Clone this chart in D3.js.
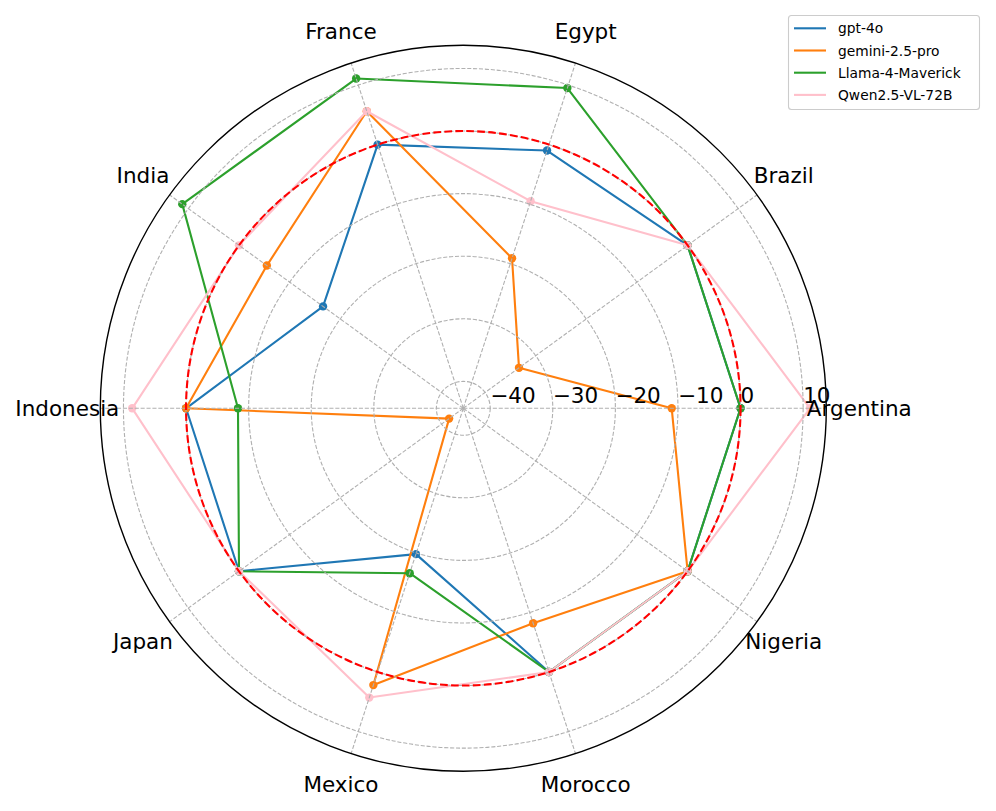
<!DOCTYPE html>
<html lang="en">
  <head>
    <meta charset="utf-8">
    <title>Radar chart</title>
    <script src="https://cdn.jsdelivr.net/npm/d3@7/dist/d3.min.js"></script>
    <style>
      body { margin: 0; background: #fff; }
      svg { font-family: "DejaVu Sans", sans-serif; }
    </style>
  </head>
  <body>
    <div id="container"></div>
    <script type="text/javascript">
      var categories = ["Argentina", "Brazil", "Egypt", "France", "India",
                        "Indonesia", "Japan", "Mexico", "Morocco", "Nigeria"];
      var models = ["gpt-4o", "gemini-2.5-pro", "Llama-4-Maverick", "Qwen2.5-VL-72B"];

      var gpt4o   = [0, 0, -1, 0, -16.6, 0, 0, -19.8, 0, 0];
      var gemini  = [-11, -33.3, -19.1, 5.6, -5.5, 0, -41.5, 2.2, -8.2, 0];
      var llama   = [0, 0, 9.5, 11.1, 11.2, -8.3, 0, -16.6, 0, 0];
      var qwen    = [11.1, 0, -9.5, 5.6, 0, 8.6, 0, 4.3, 0, 0];

      var rTicks = [-40, -30, -20, -10, 0, 10];
      var rDomain = [-44.3, 13.7];

      var series = [gpt4o, gemini, llama, qwen];
      var colors = ["#1f77b4", "#ff7f0e", "#2ca02c", "#ffc0cb"];

      var width = 996, height = 811;
      var cx = 463.3, cy = 408.3, R = 363;

      var svg = d3.select("#container").append("svg")
          .attr("width", width)
          .attr("height", height);

      var g = svg.append("g").attr("transform", "translate(" + cx + "," + cy + ")");

      var r = d3.scaleLinear().domain(rDomain).range([0, R]);
      // matplotlib angle: ccw from east, d3 radial angle: cw from north
      var theta = d3.scaleLinear().domain([0, categories.length]).range([0, 2 * Math.PI]);
      function ang(i) { return Math.PI / 2 - theta(i); }

      var radial = d3.lineRadial()
          .angle(function(d, i) { return ang(i); })
          .radius(function(d) { return r(d); })
          .curve(d3.curveLinearClosed);

      // series
      series.forEach(function(s, k) {
        g.append("path")
          .attr("d", radial(s))
          .attr("fill", "none")
          .attr("stroke", colors[k])
          .attr("stroke-width", 2.1)
          .attr("stroke-linejoin", "round");
        g.selectAll(".pt" + k).data(s).enter().append("circle")
          .attr("cx", function(d, i) { return r(d) * Math.cos(theta(i)); })
          .attr("cy", function(d, i) { return -r(d) * Math.sin(theta(i)); })
          .attr("r", 4.2)
          .attr("fill", colors[k]);
      });

      // grid on top
      g.selectAll(".ring").data(rTicks).enter().append("circle")
          .attr("r", function(d) { return r(d); })
          .attr("fill", "none")
          .attr("stroke", "#b0b0b0")
          .attr("stroke-width", 1.1)
          .attr("stroke-dasharray", "4.1,1.8");

      g.selectAll(".spoke").data(categories).enter().append("line")
          .attr("x1", 0).attr("y1", 0)
          .attr("x2", function(d, i) { return R * Math.cos(theta(i)); })
          .attr("y2", function(d, i) { return -R * Math.sin(theta(i)); })
          .attr("stroke", "#b0b0b0")
          .attr("stroke-width", 1.1)
          .attr("stroke-dasharray", "4.1,1.8");

      // zero reference
      g.append("circle")
          .attr("r", r(0))
          .attr("fill", "none")
          .attr("stroke", "red")
          .attr("stroke-width", 2.1)
          .attr("stroke-dasharray", "7.7,3.3");

      // outer frame
      g.append("circle")
          .attr("r", R)
          .attr("fill", "none")
          .attr("stroke", "#000")
          .attr("stroke-width", 1.4);

      // radial tick labels
      g.selectAll(".rlabel").data(rTicks).enter().append("text")
          .attr("x", function(d) { return r(d); })
          .attr("y", -5)
          .attr("font-size", "21.5px")
          .attr("text-anchor", "start")
          .text(function(d) { return d < 0 ? "\u2212" + Math.abs(d) : d; });

      // category labels
      g.selectAll(".clabel").data(categories).enter().append("text")
          .attr("x", function(d, i) { return (R + 33) * Math.cos(theta(i)); })
          .attr("y", function(d, i) { return -(R + 33) * Math.sin(theta(i)); })
          .attr("font-size", "21.5px")
          .attr("text-anchor", "middle")
          .attr("dominant-baseline", "central")
          .text(function(d) { return d; });

      // legend
      var lg = svg.append("g");
      lg.append("rect")
          .attr("x", 788.5).attr("y", 15.5)
          .attr("width", 191).attr("height", 94)
          .attr("rx", 3)
          .attr("fill", "#fff").attr("fill-opacity", 0.8)
          .attr("stroke", "#cccccc").attr("stroke-width", 1.1);
      models.forEach(function(m, k) {
        var y = 28.3 + k * 22.2;
        lg.append("line")
          .attr("x1", 794).attr("x2", 826)
          .attr("y1", y).attr("y2", y)
          .attr("stroke", colors[k]).attr("stroke-width", 2.1);
        lg.append("text")
          .attr("x", 838).attr("y", y)
          .attr("dominant-baseline", "central")
          .attr("font-size", "13.8px")
          .text(m);
      });
    </script>
  </body>
</html>
